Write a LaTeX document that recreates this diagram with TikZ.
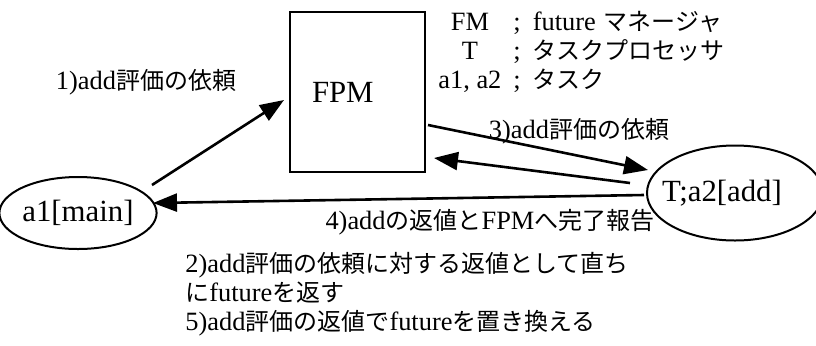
\documentclass[tikz,border=0pt]{standalone}
\usepackage{fontspec}
\setmainfont{Liberation Serif}[Scale=1.1]
\newfontfamily\jpfont{Noto Sans CJK JP}
\newcommand{\jpt}[1]{{\jpfont #1}}
\usetikzlibrary{arrows.meta,shapes.geometric,calc}
\begin{document}
\begin{tikzpicture}[x=0.5pt,y=-0.5pt,
  every node/.style={inner sep=0pt},
  task/.style={draw, ellipse, line width=1pt, font=\fontsize{14}{16}\selectfont},
  conn/.style={line width=1.3pt, -{Triangle[length=12pt,width=9pt]}},
  lbl/.style={font=\fontsize{12}{14}\selectfont}]
\useasboundingbox (0,0) rectangle (816,345);
\node[task, minimum width=70pt, minimum height=36pt] (a1) at (78,213) {a1[main]};
\node[task, minimum width=88pt, minimum height=47.5pt] (a2) at (735,193) {\hspace*{-13pt}T;a2[add]};
\node[draw, line width=1pt, minimum width=67.5pt, minimum height=80pt, inner xsep=11pt, text width=45.5pt, align=left, font=\fontsize{14}{16}\selectfont] (fpm) at (357.5,92) {FPM};
\node[lbl] (l1) at (146,82) {1)add\jpt{評価の依頼}};
\node[lbl] (l3) at (579,131) {3)add\jpt{評価の依頼}};
\node[lbl] (l4) at (490,222) {4)add\jpt{の返値と}FPM\jpt{へ完了報告}};
\node[lbl, anchor=north west, align=left, font=\fontsize{12}{14.5}\selectfont] (note) at (185,252) {2)add\jpt{評価の依頼に対する返値として直ち}\\ \jpt{に}future\jpt{を返す}\\ 5)add\jpt{評価の返値で}future\jpt{を置き換える}};
\node[lbl, anchor=west] (legend) at (438,54) {\begin{tabular}{@{}c@{\hspace{6pt}}l@{\hspace{6pt}}l@{}} FM & ; & future\hspace{4pt}\jpt{マネージャ}\\[0.5pt] T & ; & \jpt{タスクプロセッサ}\\[0.5pt] a1, a2 & ; & \jpt{タスク}\end{tabular}};
\draw[conn] ($(a1.center)+(74,-28)$) -- ($(fpm.west)+(-5,8)$);
\draw[conn] ($(fpm.east)+(2,33)$) -- ($(a2.center)+(-87,-23)$);
\draw[conn] ($(a2.center)+(-105,-10)$) -- ($(fpm.east)+(8,66)$);
\draw[conn] ($(a2.west)+(-2,2)$) -- ($(a1.center)+(75,-10)$);
\end{tikzpicture}
\end{document}
